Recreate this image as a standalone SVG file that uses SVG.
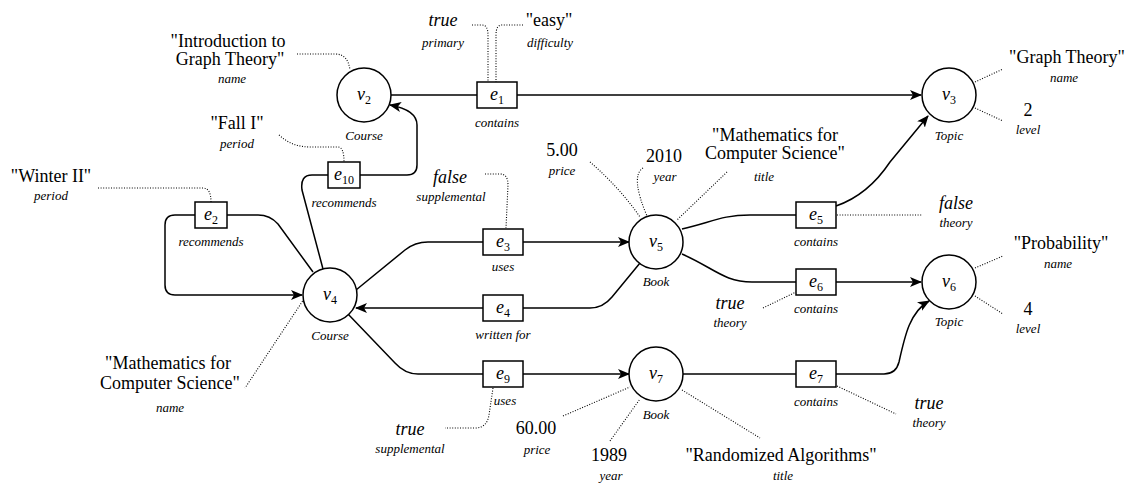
<svg xmlns="http://www.w3.org/2000/svg" width="1131" height="485" viewBox="0 0 1131 485" font-family="'Liberation Serif', 'DejaVu Serif', serif">
<style>
text{fill:#000;text-anchor:middle}
.val{font-size:18px}
.it{font-style:italic}
.key{font-size:13px;font-style:italic}
.lbl{font-size:18px;font-style:italic}
.sub{font-size:12px;font-style:normal}
circle.n{fill:#fff;stroke:#000;stroke-width:1.5}
rect.e{fill:#fff;stroke:#000;stroke-width:1.5}
.c{fill:none;stroke:#000;stroke-width:1.5}
.d{fill:none;stroke:#000;stroke-width:1.1;stroke-dasharray:1 1.6}
</style>
<defs>
<marker id="ah" viewBox="0 0 12 10" refX="11" refY="5" markerWidth="12" markerHeight="10" markerUnits="userSpaceOnUse" orient="auto">
<path d="M0,0 L12,5 L0,10 L3,5 z" fill="#000"/>
</marker>
</defs>
<rect width="1131" height="485" fill="#fff"/>
<g id="connectors">
<path class="c" d="M391,95 L477,95"/>
<path class="c" d="M517,95 L921,95" marker-end="url(#ah)"/>
<path class="c" d="M195,215 L175,215 Q165,215 165,225 L165,285 Q165,295 175,295 L302,295" marker-end="url(#ah)"/>
<path class="c" d="M227,215 L258,215 Q270,215 278,224 L313,272"/>
<path class="c" d="M323,269 L302,190 Q300,175 312,175 L328,175"/>
<path class="c" d="M360,175 L407,175 Q417,175 417,165 L417,125 Q417,110 390,105" marker-end="url(#ah)"/>
<path class="c" d="M356,290 L405,250 Q415,242 428,242 L483,242"/>
<path class="c" d="M523,242 L629,242" marker-end="url(#ah)"/>
<path class="c" d="M640,263 L612,297 Q603,308 590,308 L523,308"/>
<path class="c" d="M483,308 L356,308" marker-end="url(#ah)"/>
<path class="c" d="M348,314 L395,363 Q405,374 418,374 L483,374"/>
<path class="c" d="M523,374 L629,374" marker-end="url(#ah)"/>
<path class="c" d="M682,229 C712,222 722,215 750,215 L796,215"/>
<path class="c" d="M836,206 Q868,195 890,162 L928,116" marker-end="url(#ah)"/>
<path class="c" d="M682,254 C714,268 724,282 752,282 L796,282"/>
<path class="c" d="M836,282 L921,282" marker-end="url(#ah)"/>
<path class="c" d="M683,374 L796,374"/>
<path class="c" d="M836,374 L884,374 Q896,374 899,362 C905,335 910,312 929,301" marker-end="url(#ah)"/>
<path class="d" d="M297,54 L335,54 Q348,54 350,70"/>
<path class="d" d="M279,135 Q292,147 310,147 L338,147 Q344,147 344,162"/>
<path class="d" d="M98,188 L203,188 Q211,188 211,202"/>
<path class="d" d="M472,25 L482,25 Q488,25 488,35 L488,82"/>
<path class="d" d="M523,25 L502,25 Q496,25 496,35 L496,82"/>
<path class="d" d="M485,174 L500,174 Q508,174 508,185 L506,228"/>
<path class="d" d="M590,162 Q620,188 640,217"/>
<path class="d" d="M643,168 Q630,176 647,216"/>
<path class="d" d="M727,172 L677,220"/>
<path class="d" d="M975,82 L1003,69"/>
<path class="d" d="M975,108 L1003,121"/>
<path class="d" d="M837,215 L922,215"/>
<path class="d" d="M763,308 L796,292"/>
<path class="d" d="M975,268 L1003,256"/>
<path class="d" d="M975,296 L1003,314"/>
<path class="d" d="M837,386 L896,414"/>
<path class="d" d="M304,299 L245,388"/>
<path class="d" d="M493,388 L489,415 Q487,428 475,428 L445,428"/>
<path class="d" d="M563,416 L630,387"/>
<path class="d" d="M610,441 L640,399"/>
<path class="d" d="M682,390 L760,438"/>
</g>
<g id="v2">
<circle class="n" cx="364" cy="95" r="27"/>
<text class="lbl" x="364" y="100">v<tspan class="sub" dy="4">2</tspan></text>
<text class="key" x="364" y="140">Course</text>
<text class="val" x="228" y="47">"Introduction to</text>
<text class="val" x="230" y="65">Graph Theory"</text>
<text class="key" x="232" y="83">name</text>
</g>
<g id="v3">
<circle class="n" cx="949" cy="95" r="27"/>
<text class="lbl" x="949" y="100">v<tspan class="sub" dy="4">3</tspan></text>
<text class="key" x="949" y="140">Topic</text>
<text class="val" x="1067" y="63">"Graph Theory"</text>
<text class="key" x="1064" y="82">name</text>
<text class="val" x="1028" y="116">2</text>
<text class="key" x="1028" y="134">level</text>
</g>
<g id="v4">
<circle class="n" cx="330" cy="295" r="27"/>
<text class="lbl" x="330" y="300">v<tspan class="sub" dy="4">4</tspan></text>
<text class="key" x="330" y="340">Course</text>
<text class="val" x="168" y="369">"Mathematics for</text>
<text class="val" x="170" y="389">Computer Science"</text>
<text class="key" x="170" y="412">name</text>
</g>
<g id="v5">
<circle class="n" cx="656" cy="242" r="27"/>
<text class="lbl" x="656" y="247">v<tspan class="sub" dy="4">5</tspan></text>
<text class="key" x="656" y="286">Book</text>
<text class="val" x="562" y="156">5.00</text>
<text class="key" x="562" y="175">price</text>
<text class="val" x="664" y="162">2010</text>
<text class="key" x="665" y="181">year</text>
<text class="val" x="775" y="141">"Mathematics for</text>
<text class="val" x="775" y="159">Computer Science"</text>
<text class="key" x="764" y="181">title</text>
</g>
<g id="v6">
<circle class="n" cx="949" cy="282" r="27"/>
<text class="lbl" x="949" y="287">v<tspan class="sub" dy="4">6</tspan></text>
<text class="key" x="949" y="326">Topic</text>
<text class="val" x="1061" y="249">"Probability"</text>
<text class="key" x="1058" y="268">name</text>
<text class="val" x="1028" y="315">4</text>
<text class="key" x="1028" y="333">level</text>
</g>
<g id="v7">
<circle class="n" cx="656" cy="374" r="27"/>
<text class="lbl" x="656" y="379">v<tspan class="sub" dy="4">7</tspan></text>
<text class="key" x="656" y="419">Book</text>
<text class="val" x="536" y="434">60.00</text>
<text class="key" x="537" y="454">price</text>
<text class="val" x="609" y="461">1989</text>
<text class="key" x="611" y="480">year</text>
<text class="val" x="781" y="461">"Randomized Algorithms"</text>
<text class="key" x="783" y="480">title</text>
</g>
<g id="e1">
<rect class="e" x="477" y="82" width="40" height="26"/>
<text class="lbl" x="497" y="100">e<tspan class="sub" dy="4">1</tspan></text>
<text class="key" x="497" y="127">contains</text>
<text class="val it" x="443" y="26">true</text>
<text class="key" x="443" y="47">primary</text>
<text class="val" x="549" y="26">"easy"</text>
<text class="key" x="550" y="47">difficulty</text>
</g>
<g id="e10">
<rect class="e" x="328" y="162" width="32" height="26"/>
<text class="lbl" x="344" y="180">e<tspan class="sub" dy="4">10</tspan></text>
<text class="key" x="344" y="207">recommends</text>
<text class="val" x="237" y="129">"Fall I"</text>
<text class="key" x="237" y="148">period</text>
</g>
<g id="e2">
<rect class="e" x="195" y="202" width="32" height="26"/>
<text class="lbl" x="211" y="220">e<tspan class="sub" dy="4">2</tspan></text>
<text class="key" x="211" y="246">recommends</text>
<text class="val" x="51" y="182">"Winter II"</text>
<text class="key" x="51" y="200">period</text>
</g>
<g id="e3">
<rect class="e" x="483" y="229" width="40" height="26"/>
<text class="lbl" x="503" y="247">e<tspan class="sub" dy="4">3</tspan></text>
<text class="key" x="503" y="271">uses</text>
<text class="val it" x="450" y="183">false</text>
<text class="key" x="451" y="201">supplemental</text>
</g>
<g id="e4">
<rect class="e" x="483" y="295" width="40" height="26"/>
<text class="lbl" x="503" y="313">e<tspan class="sub" dy="4">4</tspan></text>
<text class="key" x="503" y="339">written for</text>
</g>
<g id="e5">
<rect class="e" x="796" y="202" width="40" height="26"/>
<text class="lbl" x="816" y="220">e<tspan class="sub" dy="4">5</tspan></text>
<text class="key" x="816" y="246">contains</text>
<text class="val it" x="956" y="209">false</text>
<text class="key" x="956" y="227">theory</text>
</g>
<g id="e6">
<rect class="e" x="796" y="269" width="40" height="26"/>
<text class="lbl" x="816" y="287">e<tspan class="sub" dy="4">6</tspan></text>
<text class="key" x="816" y="313">contains</text>
<text class="val it" x="730" y="309">true</text>
<text class="key" x="730" y="327">theory</text>
</g>
<g id="e7">
<rect class="e" x="796" y="361" width="40" height="26"/>
<text class="lbl" x="816" y="379">e<tspan class="sub" dy="4">7</tspan></text>
<text class="key" x="816" y="406">contains</text>
<text class="val it" x="929" y="409">true</text>
<text class="key" x="929" y="427">theory</text>
</g>
<g id="e9">
<rect class="e" x="483" y="361" width="40" height="26"/>
<text class="lbl" x="503" y="379">e<tspan class="sub" dy="4">9</tspan></text>
<text class="key" x="505" y="405">uses</text>
<text class="val it" x="410" y="435">true</text>
<text class="key" x="410" y="453">supplemental</text>
</g>
</svg>
